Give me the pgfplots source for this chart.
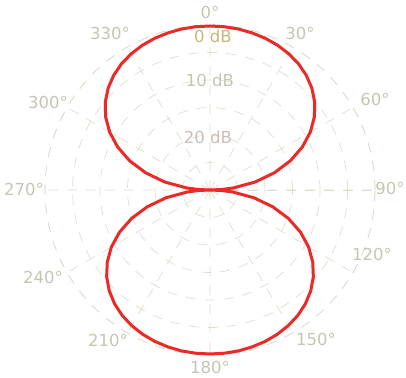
\documentclass[border=0pt]{standalone}
\usepackage{pgfplots}
\pgfplotsset{compat=1.18}
\usepgfplotslibrary{polar}
\usepackage{pgfplotstable}
\usepackage{fontspec}
\setmainfont{DejaVu Sans}
\definecolor{gridc}{RGB}{220,222,206}
\definecolor{lab}{RGB}{198,197,180}
\definecolor{curve}{RGB}{234,42,38}
\definecolor{labz}{RGB}{200,182,120}
\definecolor{labt}{RGB}{204,190,182}
% theta (deg, clockwise from top), radius (0 = centre, 30 = 0 dB ring)
\pgfplotstableread{
theta r
0 29.82
5 29.80
10 29.72
15 29.57
20 29.36
25 29.05
30 28.61
35 28.03
40 27.23
45 26.19
50 24.86
55 23.17
60 21.07
65 18.54
70 15.56
75 12.13
80 8.33
85 4.24
87.5 2.13
90 0
92.5 2.07
95 4.13
100 8.10
105 11.83
110 15.20
115 18.16
120 20.69
125 22.80
130 24.53
135 25.91
140 27.00
145 27.84
150 28.47
155 28.95
160 29.30
165 29.54
170 29.71
175 29.79
180 29.82
185 29.79
190 29.71
195 29.54
200 29.30
205 28.95
210 28.47
215 27.84
220 27.00
225 25.91
230 24.53
235 22.80
240 20.69
245 18.16
250 15.20
255 11.83
260 8.10
265 4.13
267.5 2.07
270 0
272.5 2.13
275 4.24
280 8.33
285 12.13
290 15.56
295 18.54
300 21.07
305 23.17
310 24.86
315 26.19
320 27.23
325 28.03
330 28.61
335 29.05
340 29.36
345 29.57
350 29.72
355 29.80
360 29.82
}\micdata
\begin{document}
\begin{tikzpicture}
\begin{polaraxis}[
  scale only axis, width=330pt, height=330pt,
  ymin=0, ymax=30,
  xtick={0,30,...,330}, ytick={5,10,...,30},
  xticklabels=\empty, yticklabels=\empty,
  grid=major,
  major grid style={gridc, line width=0.7pt, dash pattern=on 10pt off 9pt},
  axis line style={gridc, line width=0.7pt, dash pattern=on 10pt off 9pt},
  major tick length=0pt,
  clip=false,
]
\addplot[curve, line width=3pt, line join=round] table[x expr=90-\thisrow{theta}, y=r] {\micdata};
\coordinate (c) at (axis cs:0,0);
\end{polaraxis}
\begin{scope}[font=\fontsize{16.5}{18}\selectfont, text=lab]
\node at ([shift={(0pt,178pt)}]c) {0°};
\node at ([shift={(90pt,157pt)}]c) {30°};
\node at ([shift={(165pt,91pt)}]c) {60°};
\node at ([shift={(180pt,2pt)}]c) {90°};
\node at ([shift={(162pt,-64pt)}]c) {120°};
\node at ([shift={(106pt,-149pt)}]c) {150°};
\node at ([shift={(0pt,-177pt)}]c) {180°};
\node at ([shift={(-102pt,-150pt)}]c) {210°};
\node at ([shift={(-167pt,-87pt)}]c) {240°};
\node at ([shift={(-186pt,1pt)}]c) {270°};
\node at ([shift={(-162pt,88pt)}]c) {300°};
\node at ([shift={(-100pt,157pt)}]c) {330°};
\node[text=labz] at ([shift={(3pt,154pt)}]c) {0 dB};
\node at ([shift={(0pt,110pt)}]c) {10 dB};
\node[text=labt] at ([shift={(-2pt,53pt)}]c) {20 dB};
\end{scope}
\pgfresetboundingbox
\useasboundingbox ([shift={(-210pt,-187pt)}]c) rectangle ([shift={(196pt,190pt)}]c);
\end{tikzpicture}
\end{document}
